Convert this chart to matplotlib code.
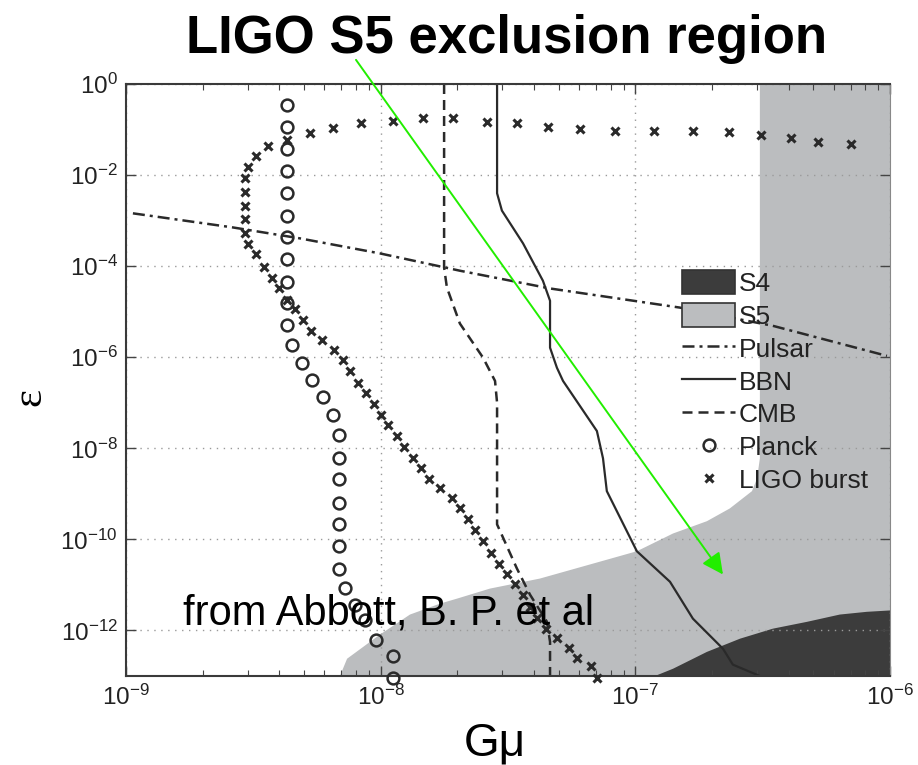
import numpy as np
import matplotlib
matplotlib.use("Agg")
import matplotlib.pyplot as plt
import matplotlib.patches as mpatches
from matplotlib.ticker import NullLocator

plt.rcParams['font.family'] = ['Liberation Sans', 'DejaVu Sans']
plt.rcParams['mathtext.fontset'] = 'custom'
plt.rcParams['mathtext.rm'] = 'Liberation Sans'
plt.rcParams['mathtext.it'] = 'Liberation Sans:italic'
plt.rcParams['mathtext.bf'] = 'Liberation Sans:bold'

# all values are log10(G mu) / log10(epsilon)
# S5 excluded region (upper boundary, left to right)
s5_lx = np.array([-8.160, -8.132, -8.003, -7.885, -7.767, -7.700, -7.571, -7.375, -7.178,
                  -6.994, -6.852, -6.719, -6.629, -6.542, -6.522, -6.511, -6.511, -6.0, -6.0])
s5_ly = np.array([-13.0, -12.62, -12.09, -11.65, -11.41, -11.30, -11.08, -10.86, -10.55,
                  -10.26, -9.87, -9.60, -9.32, -8.94, -8.66, -8.22, 0.0, 0.0, -13.0])
# S4 excluded region
s4_lx = np.array([-6.923, -6.852, -6.719, -6.589, -6.460, -6.326, -6.197, -6.091, -6.0, -6.0])
s4_ly = np.array([-13.0, -12.84, -12.47, -12.18, -11.96, -11.81, -11.65, -11.59, -11.56, -13.0])

# Pulsar bound
pulsar_lx = np.array([-8.973, -8.580, -8.317, -8.003, -7.689, -7.335, -6.825, -6.460, -6.012])
pulsar_ly = np.array([-2.84, -3.15, -3.39, -3.72, -4.10, -4.49, -4.91, -5.31, -5.97])

# BBN bound
bbn_lx = np.array([-7.543, -7.543, -7.524, -7.441, -7.363, -7.335, -7.335, -7.308, -7.284,
                   -7.151, -7.127, -7.112, -6.994, -6.864, -6.774, -6.656, -6.617, -6.511])
bbn_ly = np.array([0.0, -2.40, -2.78, -3.50, -4.32, -4.76, -5.79, -6.23, -6.52,
                   -7.62, -8.22, -8.94, -10.26, -10.93, -11.74, -12.40, -12.75, -13.0])

# CMB bound
cmb_lx = np.array([-7.751, -7.751, -7.740, -7.689, -7.598, -7.551, -7.543, -7.543,
                   -7.465, -7.414, -7.347, -7.335, -7.335])
cmb_ly = np.array([0.0, -4.03, -4.47, -5.26, -6.01, -6.52, -7.0, -9.67,
                   -10.64, -11.21, -11.81, -12.25, -13.0])

# Planck forecast (circles)
planck_lx = np.array([-8.368] * 11 + [-8.348, -8.309, -8.270, -8.227, -8.187]
                     + [-8.164] * 7 + [-8.140, -8.101, -8.062, -8.018, -7.952, -7.952])
planck_ly = np.array([-0.46, -0.95, -1.43, -1.92, -2.40, -2.89, -3.37, -3.85, -4.34, -4.80, -5.29,
                      -5.73, -6.12, -6.50, -6.87, -7.27,
                      -7.71, -8.22, -8.68, -9.19, -9.67, -10.15, -10.64,
                      -11.06, -11.45, -11.78, -12.20, -12.56, -13.04])

# LIGO burst sensitivity (crosses)
burst_lx = np.array([-6.154, -6.283, -6.389, -6.507, -6.632, -6.774, -6.927, -7.080, -7.218,
                     -7.343, -7.465, -7.583, -7.716, -7.834, -7.952, -8.077, -8.187, -8.278,
                     -8.368, -8.442, -8.490, -8.521, -8.533, -8.533, -8.533, -8.533, -8.533,
                     -8.521, -8.490, -8.458, -8.427, -8.399, -8.368, -8.336, -8.305, -8.274,
                     -8.230, -8.183, -8.148, -8.121, -8.089, -8.058, -8.026, -7.999, -7.971,
                     -7.936, -7.909, -7.873, -7.842, -7.810, -7.767, -7.720, -7.689, -7.657,
                     -7.630, -7.598, -7.567, -7.536, -7.504, -7.473, -7.441, -7.414, -7.386,
                     -7.351, -7.308, -7.261, -7.229, -7.174, -7.151])
burst_ly = np.array([-1.32, -1.28, -1.19, -1.12, -1.06, -1.04, -1.04, -1.04, -0.99,
                     -0.95, -0.86, -0.84, -0.75, -0.75, -0.81, -0.86, -0.97, -1.08,
                     -1.23, -1.37, -1.59, -1.83, -2.07, -2.38, -2.67, -2.97, -3.28,
                     -3.52, -3.74, -4.01, -4.25, -4.49, -4.74, -4.93, -5.18, -5.42,
                     -5.62, -5.84, -6.06, -6.30, -6.56, -6.78, -7.03, -7.27, -7.49,
                     -7.73, -7.97, -8.22, -8.44, -8.68, -8.88, -9.10, -9.32, -9.56,
                     -9.80, -10.04, -10.29, -10.53, -10.77, -10.99, -11.21, -11.48, -11.72,
                     -11.96, -12.16, -12.38, -12.60, -12.78, -13.04])

labels = ['S4', 'S5', 'Pulsar', 'BBN', 'CMB', 'Planck', 'LIGO burst']
x_ticks_exp = [-9, -8, -7, -6]
y_ticks_exp = [0, -2, -4, -6, -8, -10, -12]

# arrow / credit positions (log10)
arrow_tip = (-6.656, -10.77)
arrow_tail = (-8.097, 0.53)
credit_pos = (-8.776, -11.87)

s5_color = '#bbbdbf'
s4_color = '#3c3c3c'
ink = '#2a2a2a'

fig = plt.figure(figsize=(9.18, 7.65), dpi=100)
ax = fig.add_axes([0.1373, 0.1163, 0.8322, 0.7739])
ax.set_xscale('log')
ax.set_yscale('log')

ax.fill(10 ** s5_lx, 10 ** s5_ly, color=s5_color, lw=0, zorder=1)
ax.fill(10 ** s4_lx, 10 ** s4_ly, color=s4_color, lw=0, zorder=1.1)

pulsar_line, = ax.plot(10 ** pulsar_lx, 10 ** pulsar_ly, color=ink, lw=1.8,
                       dashes=(4.8, 2, 1.2, 2), zorder=2)
bbn_line, = ax.plot(10 ** bbn_lx, 10 ** bbn_ly, color=ink, lw=1.6, zorder=2)
cmb_line, = ax.plot(10 ** cmb_lx, 10 ** cmb_ly, color=ink, lw=1.8, dashes=(4, 2.4), zorder=2)
planck_pts, = ax.plot(10 ** planck_lx, 10 ** planck_ly, ls='none', marker='o', ms=8.5,
                      mfc='none', mec=ink, mew=1.8, zorder=3, clip_on=False)
burst_pts, = ax.plot(10 ** burst_lx, 10 ** burst_ly, ls='none', marker='x', ms=5.5,
                     mec=ink, mew=2.2, zorder=3, clip_on=False)

ax.set_xlim(1e-9, 1e-6)
ax.set_ylim(1e-13, 1e0)
ax.set_xticks([10.0 ** k for k in x_ticks_exp])
ax.set_yticks([10.0 ** k for k in y_ticks_exp])
ax.yaxis.set_minor_locator(NullLocator())

ax.grid(True, which='major', linestyle=(0, (1, 4)), color='#9a9a9a', lw=1.0)
ax.tick_params(which='both', direction='in', top=True, right=True, color='#444444',
               labelsize=17.5, labelcolor='#222222', pad=6)
ax.tick_params(which='major', length=7, width=1)
ax.tick_params(which='minor', length=4, width=0.8)
for side in ['left', 'bottom', 'top']:
    ax.spines[side].set_color('#3a3a3a')
    ax.spines[side].set_linewidth(1.5)
ax.spines['right'].set_color('#888888')

handles = [mpatches.Patch(facecolor=s4_color, edgecolor='#333333', lw=1.2),
           mpatches.Patch(facecolor=s5_color, edgecolor='#333333', lw=1.2),
           pulsar_line, bbn_line, cmb_line, planck_pts, burst_pts]
leg = ax.legend(handles, labels, loc='upper left', bbox_to_anchor=(0.728, 0.686),
                frameon=False, fontsize=19, handlelength=2.0, handleheight=1.05,
                handletextpad=0.15, labelspacing=0.25, borderpad=0, borderaxespad=0,
                numpoints=1)
for t in leg.get_texts():
    t.set_color('#222222')

ax.set_xlabel('Gμ', fontsize=33)
ax.xaxis.set_label_coords(0.483, -0.1334)
ax.xaxis.label.set_va('baseline')
ax.set_ylabel('ε', fontsize=31, family=['Liberation Serif', 'DejaVu Serif'])
ax.yaxis.set_label_coords(-0.1257, 0.471)
ax.yaxis.label.set_va('center')

ax.text(10 ** credit_pos[0], 10 ** credit_pos[1], 'from Abbott, B. P. et al',
        fontsize=30, ha='left', va='baseline', color='black', zorder=6)

ax.annotate('', xy=(10 ** arrow_tip[0], 10 ** arrow_tip[1]),
            xytext=(10 ** arrow_tail[0], 10 ** arrow_tail[1]),
            arrowprops=dict(arrowstyle='-|>', color='#22ee00', lw=1.4,
                            mutation_scale=32, shrinkA=0, shrinkB=0),
            annotation_clip=False, zorder=7)

fig.text(506.5 / 918, 1 - 53 / 765, 'LIGO S5 exclusion region', ha='center',
         va='baseline', fontsize=38, fontweight='bold')

fig.savefig('out.png', dpi=100)
